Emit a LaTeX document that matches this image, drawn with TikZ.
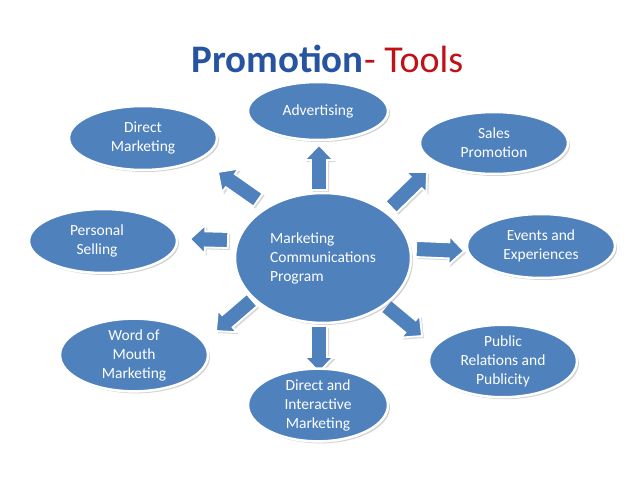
\documentclass[tikz,border=0pt]{standalone}
\usepackage{fontspec}
\setmainfont{Carlito}
\usetikzlibrary{shapes.geometric,shadows,calc}
\definecolor{boxblue}{RGB}{79,129,189}
\definecolor{titleblue}{RGB}{38,84,160}
\definecolor{titlered}{RGB}{192,16,24}
\tikzset{
  oval/.style={ellipse, fill=boxblue, draw=white, line width=2.5pt,
    drop shadow={opacity=0.35, shadow xshift=2pt, shadow yshift=-2pt},
    text=white, font=\fontsize{15.5}{19}\selectfont, align=center, inner sep=0pt},
  blockarr/.style={fill=boxblue, draw=white, line width=1.8pt, line join=miter,
    drop shadow={opacity=0.3, shadow xshift=2pt, shadow yshift=-2pt}}
}
\newcommand\blockarrow[3]{%
  \coordinate (#1h) at ($(#3)!15pt!(#2)$);
  \filldraw[blockarr] ($(#2)!8pt!90:(#3)$) -- ($(#1h)!8pt!90:(#3)$) -- ($(#1h)!14.5pt!90:(#3)$)
    -- (#3) -- ($(#1h)!14.5pt!-90:(#3)$) -- ($(#1h)!8pt!-90:(#3)$) -- ($(#2)!8pt!-90:(#3)$) -- cycle;
}
\begin{document}
\begin{tikzpicture}[x=1pt,y=-1pt]
\useasboundingbox[fill=white] (0,0) rectangle (638,479);
% title
\node[anchor=base east, font=\fontsize{39}{40}\selectfont\bfseries, text=titleblue, inner sep=0pt] (tp) at (364,72) {Promotion};
\node[anchor=base west, font=\fontsize{38}{40}\selectfont, text=titlered, inner sep=0pt] (tt) at (tp.base east) {- Tools};
% arrows (drawn first, under ellipses)
\coordinate (a1t) at (319,190); \coordinate (a1p) at (319,145);
\coordinate (a2t) at (258,200); \coordinate (a2p) at (218,172);
\coordinate (a3t) at (391,207); \coordinate (a3p) at (427,172);
\coordinate (a4t) at (228,240); \coordinate (a4p) at (190,239);
\coordinate (a5t) at (416,249); \coordinate (a5p) at (464,251);
\coordinate (a6t) at (252,300); \coordinate (a6p) at (216,331);
\coordinate (a7t) at (319,326); \coordinate (a7p) at (319,372);
\coordinate (a8t) at (386,306); \coordinate (a8p) at (422,336);
\blockarrow{a1}{a1t}{a1p}
\blockarrow{a2}{a2t}{a2p}
\blockarrow{a3}{a3t}{a3p}
\blockarrow{a4}{a4t}{a4p}
\blockarrow{a5}{a5t}{a5p}
\blockarrow{a6}{a6t}{a6p}
\blockarrow{a7}{a7t}{a7p}
\blockarrow{a8}{a8t}{a8p}
% ellipses
\node[oval, minimum width=176pt, minimum height=130pt, align=left] (c) at (323,258) {Marketing\\Communications\\Program};
\node[oval, minimum width=140pt, minimum height=58pt] (adv) at (318,111) {Advertising};
\node[oval, minimum width=148pt, minimum height=64pt] (dm) at (143,138) {Direct\\Marketing};
\node[oval, minimum width=148pt, minimum height=62pt] (sp) at (494,143) {Sales\\Promotion};
\node[oval, minimum width=148pt, minimum height=64pt] (ps) at (103,241) {\hspace*{-12pt}Personal\\\hspace*{-12pt}Selling};
\node[oval, minimum width=148pt, minimum height=64pt] (ee) at (541,246) {Events and\\Experiences};
\node[oval, minimum width=148pt, minimum height=66pt] (wm) at (134,355) {Word of\\Mouth\\Marketing};
\node[oval, minimum width=140pt, minimum height=70pt] (di) at (318,405) {Direct and\\Interactive\\Marketing};
\node[oval, minimum width=148pt, minimum height=68pt] (pr) at (503,361) {Public\\Relations and\\Publicity};
\end{tikzpicture}
\end{document}
